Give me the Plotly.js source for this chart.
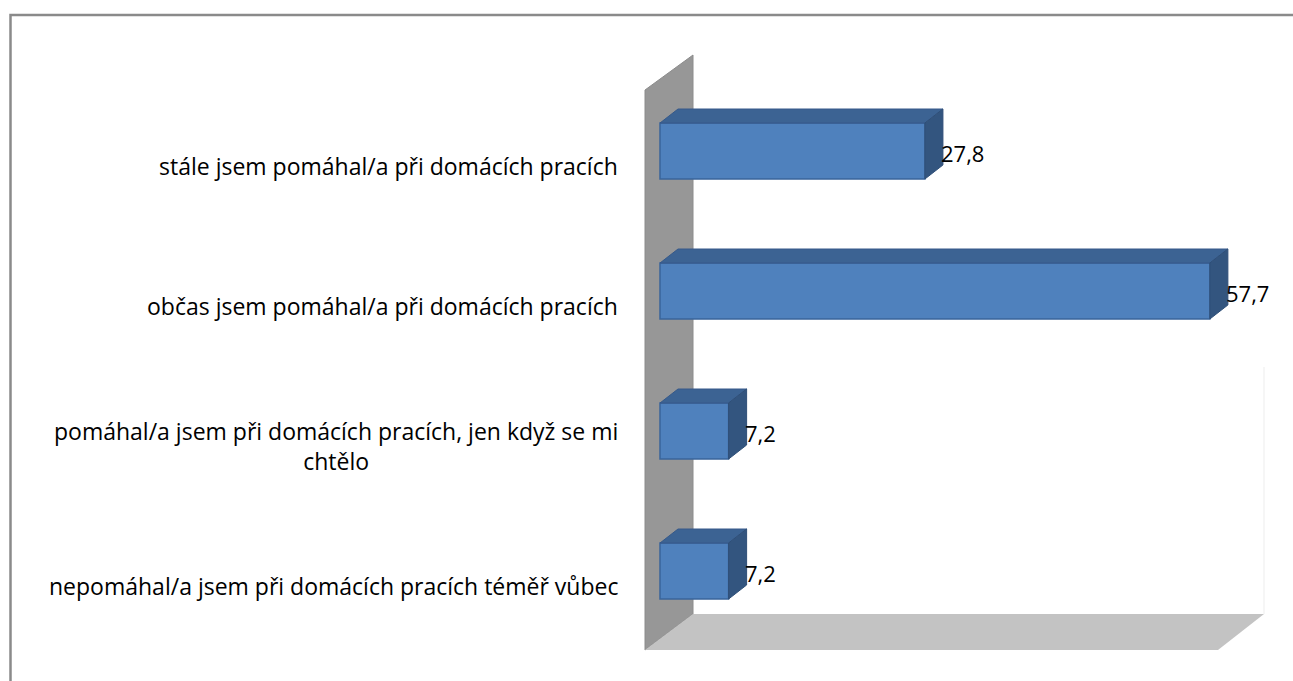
<!DOCTYPE html>
<html>
<head>
<meta charset="utf-8">
<script src="https://cdn.plot.ly/plotly-3.0.1.min.js"></script>
<style>html,body{margin:0;padding:0;background:#fff;}#chart{width:1293px;height:681px;}</style>
</head>
<body>
<div id="chart"></div>
<script>
const categories = [
  "stále jsem pomáhal/a při domácích pracích",
  "občas jsem pomáhal/a při domácích pracích",
  "pomáhal/a jsem při domácích pracích, jen když se mi<br>chtělo",
  "nepomáhal/a jsem při domácích pracích téměř vůbec"
];
const values = [27.8, 57.7, 7.2, 7.2];
const valueLabels = ["27,8", "57,7", "7,2", "7,2"];

// ---- geometry (layout only) ----
const W = 1293, H = 681;
const M = {l: 640, r: 13, t: 40, b: 21};
const plotW = W - M.l - M.r, plotH = H - M.t - M.b;
const zeroPx = 660, pxPerUnit = 9.53;      // x scale
const firstCenterPx = 151, bandPx = 140;   // y scale
const xRange = [(M.l - zeroPx) / pxPerUnit, (M.l + plotW - zeroPx) / pxPerUnit];
const yTop = (M.t - firstCenterPx) / bandPx, yBot = (M.t + plotH - firstCenterPx) / bandPx;
const barW = 0.4;
const depthX = 18 / pxPerUnit, depthY = 14 / bandPx;

const px = v => (v - M.l) / plotW;            // pixel -> paper x
const py = v => (H - M.b - v) / plotH;        // pixel -> paper y
const fontFam = "'Open Sans', Lato, sans-serif";

const idx = categories.map((c, i) => i);

// 3D faces derived from the data values
const topX = [], topY = [], sideX = [], sideY = [];
values.forEach((v, i) => {
  const y0 = i - barW / 2, y1 = i + barW / 2;
  topX.push(0, v, v + depthX, depthX, 0, null);
  topY.push(y0, y0, y0 - depthY, y0 - depthY, y0, null);
  sideX.push(v, v + depthX, v + depthX, v, v, null);
  sideY.push(y0, y0 - depthY, y1 - depthY, y1, y0, null);
});

const traces = [
  {type: 'scatter', x: topX, y: topY, mode: 'lines', fill: 'toself',
   fillcolor: '#3C6393', line: {color: '#36598A', width: 1}, hoverinfo: 'skip', showlegend: false},
  {type: 'scatter', x: sideX, y: sideY, mode: 'lines', fill: 'toself',
   fillcolor: '#33557F', line: {color: '#2F4F78', width: 1}, hoverinfo: 'skip', showlegend: false},
  {type: 'bar', orientation: 'h', x: values, y: idx, width: barW,
   marker: {color: '#4F81BD', line: {color: '#3A649A', width: 1.5}}, showlegend: false}
];

const annotations = [];
values.forEach((v, i) => {
  annotations.push({xref: 'x', yref: 'y', x: v, y: i, xshift: 14, yshift: -2,
    xanchor: 'left', yanchor: 'middle', showarrow: false, text: valueLabels[i],
    font: {family: fontFam, size: 22, color: '#000'}});
});
categories.forEach((c, i) => {
  annotations.push({xref: 'paper', yref: 'y', x: 0, y: i, xshift: -20, yshift: -15,
    xanchor: 'right', yanchor: 'middle', align: 'center', showarrow: false, text: c,
    font: {family: fontFam, size: 23, color: '#000'}});
});

const poly = pts => 'M ' + pts.map(p => px(p[0]) + ',' + py(p[1])).join(' L ') + ' Z';
const shapes = [
  // side wall
  {type: 'path', xref: 'paper', yref: 'paper', layer: 'below',
   path: poly([[645, 90], [693, 55], [693, 614], [645, 650]]),
   fillcolor: '#979797', line: {color: '#8C8C8C', width: 1}},
  // floor
  {type: 'path', xref: 'paper', yref: 'paper', layer: 'below',
   path: poly([[645, 650], [693, 614], [1264, 614], [1218, 650]]),
   fillcolor: '#C3C3C3', line: {width: 0}},
  // faint back wall edge
  {type: 'line', xref: 'paper', yref: 'paper', layer: 'below',
   x0: px(1264), x1: px(1264), y0: py(367), y1: py(614), line: {color: '#EDEDED', width: 1}},
  // chart border
  {type: 'path', xref: 'paper', yref: 'paper', layer: 'above',
   path: 'M ' + px(10.5) + ',' + py(690) + ' L ' + px(10.5) + ',' + py(15) + ' L ' + px(1300) + ',' + py(15),
   line: {color: '#8A8A8A', width: 2.5}}
];

const layout = {
  width: W, height: H,
  margin: M,
  paper_bgcolor: '#fff', plot_bgcolor: 'rgba(0,0,0,0)',
  xaxis: {range: xRange, visible: false, fixedrange: true},
  yaxis: {range: [yBot, yTop], visible: false, fixedrange: true},
  bargap: 0,
  showlegend: false,
  annotations: annotations,
  shapes: shapes,
  font: {family: fontFam}
};

Plotly.newPlot('chart', traces, layout, {displayModeBar: false, staticPlot: true});
</script>
</body>
</html>
